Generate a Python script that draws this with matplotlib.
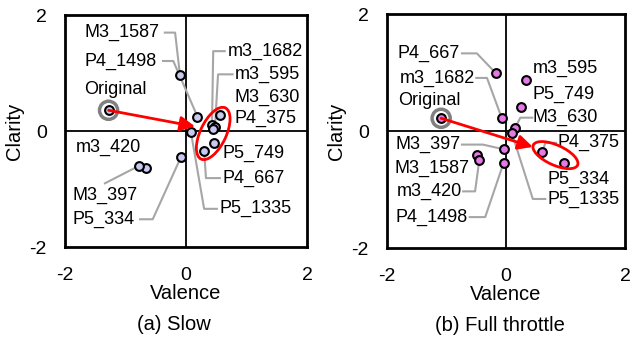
import matplotlib
matplotlib.use('Agg')
import matplotlib.pyplot as plt
from matplotlib.patches import Ellipse

plt.rcParams['font.family'] = ['Liberation Sans', 'DejaVu Sans']

# ---- data: (a) Slow ----
slow_names = ['M3_1587', 'P4_1498', 'm3_1682', 'm3_595', 'M3_630', 'P4_375',
              'P5_749', 'P4_667', 'P5_1335', 'm3_420', 'M3_397', 'P5_334']
slow_valence = [-0.10, 0.19, 0.43, 0.48, 0.45, 0.57, 0.47, 0.30, 0.08, -0.66, -0.78, -0.08]
slow_clarity = [0.97, 0.25, 0.11, 0.08, 0.03, 0.27, -0.20, -0.34, -0.01, -0.63, -0.60, -0.44]
slow_original = (-1.28, 0.36)

# ---- data: (b) Full throttle ----
full_names = ['P4_667', 'm3_1682', 'm3_595', 'P5_749', 'M3_630', 'P4_375',
              'P5_334', 'P5_1335', 'M3_397', 'M3_1587', 'm3_420', 'P4_1498']
full_valence = [-0.17, -0.07, 0.33, 0.25, 0.15, 0.61, 0.98, 0.10, -0.04, -0.49, -0.45, -0.04]
full_clarity = [0.99, 0.22, 0.87, 0.41, 0.05, -0.36, -0.54, -0.04, -0.31, -0.41, -0.50, -0.54]
full_original = (-1.09, 0.22)

# label layout: name -> (text x, text y, ha, leader start x, elbow x) ; None = no leader
slow_layout = {
    'M3_1587': (-0.43, 1.70, 'right', -0.35, -0.18),
    'P4_1498': (-0.48, 1.21, 'right', -0.38, -0.21),
    'm3_1682': (0.69, 1.38, 'left', 0.64, 0.45),
    'm3_595': (0.81, 0.98, 'left', 0.77, 0.53),
    'M3_630': (0.81, 0.59, 'left', None, None),
    'P4_375': (0.81, 0.22, 'left', None, None),
    'P5_749': (0.61, -0.38, 'left', None, None),
    'P4_667': (0.61, -0.81, 'left', 0.56, 0.33),
    'P5_1335': (0.56, -1.34, 'left', 0.51, 0.30),
    'm3_420': (-1.83, -0.28, 'left', None, None),
    'M3_397': (-1.87, -1.10, 'left', -1.34, None),
    'P5_334': (-1.87, -1.52, 'left', -0.76, -0.55),
}
full_layout = {
    'P4_667': (-0.77, 1.33, 'right', -0.74, -0.49),
    'm3_1682': (-0.52, 0.91, 'right', -0.50, -0.32),
    'm3_595': (0.45, 1.08, 'left', None, None),
    'P5_749': (0.45, 0.62, 'left', None, None),
    'M3_630': (0.45, 0.23, 'left', 0.44, 0.24),
    'P4_375': (0.87, -0.20, 'left', 0.84, 0.66),
    'P5_334': (0.69, -0.82, 'left', None, None),
    'P5_1335': (0.69, -1.16, 'left', 0.66, 0.45),
    'M3_397': (-0.77, -0.23, 'right', -0.74, -0.39),
    'M3_1587': (-0.61, -0.63, 'right', None, None),
    'm3_420': (-0.74, -1.03, 'right', -0.72, -0.52),
    'P4_1498': (-0.64, -1.47, 'right', -0.61, -0.35),
}

FS = 13      # point labels
FS_AX = 14.5  # axis labels, captions
FS_TK = 14   # tick labels
GREY = '#a6a6a6'


def draw_panel(ax, names, vx, vy, original, layout, face, orig_label, arrow_tip, ell,
               caption, cap_x):
    ax.set_xlim(-2, 2)
    ax.set_ylim(-2, 2)
    ax.axhline(0, color='black', lw=1.3, zorder=1)
    ax.axvline(0, color='black', lw=1.3, zorder=1)
    for s in ax.spines.values():
        s.set_linewidth(2)

    for name, x, y in zip(names, vx, vy):
        tx, ty, ha, lx, ex = layout[name]
        ax.text(tx, ty, name, ha=ha, va='center', fontsize=FS)
        if lx is not None:
            if ex is None:
                ax.plot([lx, x], [ty + 0.2, y], color=GREY, lw=1.5, zorder=2)
            else:
                ax.plot([lx, ex, x], [ty, ty, y], color=GREY, lw=1.5, zorder=2)

    ax.scatter(vx, vy, s=40, facecolor=face, edgecolor='black', linewidth=1.5, zorder=3)

    ox, oy = original
    ax.scatter([ox], [oy], s=40, facecolor=face, edgecolor='black', linewidth=1.5, zorder=3)
    ax.scatter([ox], [oy], s=170, facecolor='none', edgecolor='#808080', linewidth=2.5, zorder=3)
    ax.text(orig_label[0], orig_label[1], 'Original', ha='center', va='center', fontsize=FS)

    ax.add_patch(Ellipse(ell[0], ell[1], ell[2], angle=ell[3], fill=False,
                         edgecolor='red', lw=2, zorder=4))
    ax.annotate('', xy=arrow_tip, xytext=original,
                arrowprops=dict(arrowstyle='-|>', color='red', lw=2, mutation_scale=22,
                                shrinkA=0, shrinkB=0), zorder=5)

    ax.set_xticks([-2, 0, 2])
    ax.set_yticks([-2, 0, 2])
    ax.set_xticklabels(['-2', '0', '2'])
    ax.set_yticklabels(['-2', '0', '2'])
    ax.tick_params(axis='x', length=0, pad=14, labelsize=FS_TK)
    ax.tick_params(axis='y', length=0, pad=13, labelsize=FS_TK)
    ax.set_xlabel('Valence', fontsize=FS_AX, labelpad=0)
    ax.set_ylabel('Clarity', fontsize=FS_AX, labelpad=4)
    ax.text(cap_x, -0.332, caption, transform=ax.transAxes, ha='center', va='center',
            fontsize=FS_AX)


fig = plt.figure(figsize=(6.35, 3.38), dpi=100)
ax1 = fig.add_axes([0.1024, 0.269, 0.381, 0.686])
ax2 = fig.add_axes([0.6094, 0.266, 0.375, 0.692])

draw_panel(ax1, slow_names, slow_valence, slow_clarity, slow_original, slow_layout,
           '#c8c8f0', (-1.17, 0.71), (0.15, 0.08),
           ((0.45, -0.04), 0.97, 0.43, 66), '(a) Slow', 0.45)
draw_panel(ax2, full_names, full_valence, full_clarity, full_original, full_layout,
           '#e679e6', (-1.28, 0.53), (0.45, -0.27),
           ((0.83, -0.41), 0.82, 0.34, -25), '(b) Full throttle', 0.475)

fig.savefig('out.png', dpi=100)
